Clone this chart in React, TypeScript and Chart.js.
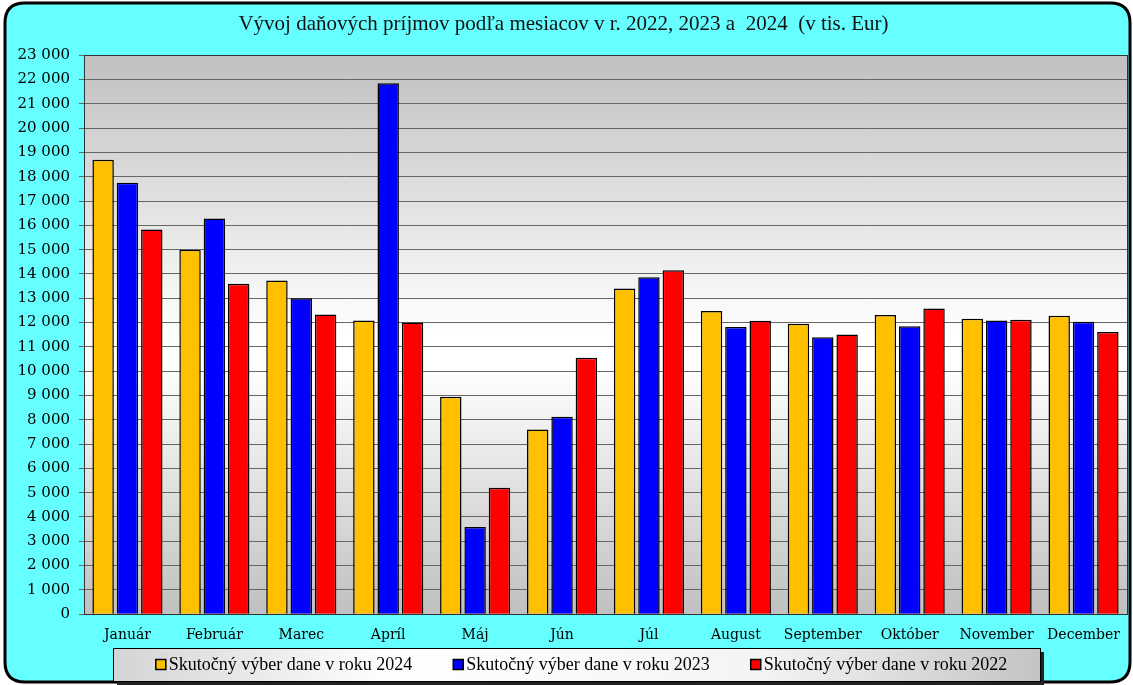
import React, { useEffect, useRef } from "react";
import { Chart, registerables } from "chart.js";

Chart.register(...registerables);

const months = ["Január", "Február", "Marec", "Apríl", "Máj", "Jún", "Júl", "August", "September", "Október", "November", "December"];
const seriesLabels = ["Skutočný výber dane v roku 2024", "Skutočný výber dane v roku 2023", "Skutočný výber dane v roku 2022"];
const values2024 = [18700, 15000, 13730, 12080, 8950, 7600, 13400, 12480, 11950, 12310, 12160, 12280];
const values2023 = [17750, 16280, 13000, 21850, 3590, 8120, 13860, 11820, 11400, 11850, 12080, 12030];
const values2022 = [15830, 13600, 12330, 12000, 5200, 10550, 14150, 12070, 11510, 12580, 12110, 11610];
const colors = ["#FFC000", "#0000FF", "#FF0000"];
const yMax = 23000;
const yStep = 1000;
const titleText = "Vývoj daňových príjmov podľa mesiacov v r. 2022, 2023 a  2024  (v tis. Eur)";

const fmt = (v: number) => String(v).replace(/\B(?=(\d{3})+(?!\d))/g, " ");

const backgroundPlugin = {
  id: "bgPlugin",
  beforeDraw(chart: any) {
    const { ctx, width, height, chartArea } = chart;
    ctx.save();
    ctx.fillStyle = "#ffffff";
    ctx.fillRect(0, 0, width, height);
    const x = 5, y = 3, w = width - 8, h = height - 6, r = 20;
    ctx.beginPath();
    ctx.moveTo(x + r, y);
    ctx.lineTo(x + w - r, y);
    ctx.quadraticCurveTo(x + w, y, x + w, y + r);
    ctx.lineTo(x + w, y + h - r);
    ctx.quadraticCurveTo(x + w, y + h, x + w - r, y + h);
    ctx.lineTo(x + r, y + h);
    ctx.quadraticCurveTo(x, y + h, x, y + h - r);
    ctx.lineTo(x, y + r);
    ctx.quadraticCurveTo(x, y, x + r, y);
    ctx.closePath();
    ctx.fillStyle = "#66FFFF";
    ctx.fill();
    ctx.lineWidth = 3;
    ctx.strokeStyle = "#000000";
    ctx.stroke();
    const g = ctx.createLinearGradient(0, chartArea.top, 0, chartArea.bottom);
    g.addColorStop(0, "#c0c0c0");
    g.addColorStop(0.5, "#ffffff");
    g.addColorStop(0.56, "#ffffff");
    g.addColorStop(1, "#c0c0c0");
    ctx.fillStyle = g;
    ctx.fillRect(chartArea.left, chartArea.top, chartArea.right - chartArea.left, chartArea.bottom - chartArea.top);
    ctx.restore();
  },
  beforeDatasetsDraw(chart: any) {
    const { ctx, chartArea } = chart;
    ctx.save();
    ctx.strokeStyle = "#333333";
    ctx.lineWidth = 1;
    ctx.strokeRect(Math.round(chartArea.left) + 0.5, Math.round(chartArea.top) + 0.5, Math.round(chartArea.right - chartArea.left), Math.round(chartArea.bottom - chartArea.top));
    ctx.restore();
  },
  afterDraw(chart: any) {
    const { ctx } = chart;
    const bx = 113, by = 648, bw = 927, bh = 33;
    ctx.save();
    ctx.fillStyle = "#222222";
    ctx.fillRect(bx + 4, by + 4, bw, bh);
    const g = ctx.createLinearGradient(bx, 0, bx + bw, 0);
    g.addColorStop(0, "#d4d4d4");
    g.addColorStop(0.3, "#ffffff");
    g.addColorStop(0.7, "#f4f4f4");
    g.addColorStop(1, "#c4c4c4");
    ctx.fillStyle = g;
    ctx.fillRect(bx, by, bw, bh);
    ctx.strokeStyle = "#000000";
    ctx.lineWidth = 1;
    ctx.strokeRect(bx + 0.5, by + 0.5, bw, bh);
    ctx.font = "18px 'Liberation Serif'";
    ctx.textBaseline = "middle";
    const datasets = chart.data.datasets;
    const gap = 41;
    const widths = datasets.map((d: any) => 13 + ctx.measureText(d.label).width);
    const total = widths.reduce((a: number, b: number) => a + b, 0) + gap * (datasets.length - 1);
    let cx = bx + bw / 2 - total / 2 + 5;
    const cy = by + bh / 2;
    datasets.forEach((d: any, i: number) => {
      ctx.fillStyle = d.backgroundColor;
      ctx.fillRect(cx, cy - 5, 10, 10);
      ctx.strokeStyle = "#000";
      ctx.lineWidth = 1.5;
      ctx.strokeRect(cx, cy - 5, 10, 10);
      ctx.fillStyle = "#000";
      ctx.fillText(d.label, cx + 13, cy + 1);
      cx += widths[i] + gap;
    });
    ctx.restore();
  },
};

export default function App() {
  const ref = useRef<HTMLCanvasElement>(null);
  useEffect(() => {
    if (!ref.current) return;
    const series = [values2024, values2023, values2022];
    const chart = new Chart(ref.current, {
      type: "bar",
      data: {
        labels: months,
        datasets: series.map((vals, i) => ({
          label: seriesLabels[i],
          data: vals,
          backgroundColor: colors[i],
          borderColor: "#000000",
          borderWidth: 1.5,
          categoryPercentage: 0.84,
          barPercentage: 0.88,
        })),
      },
      options: {
        responsive: false,
        animation: false,
        layout: { padding: { left: 0, right: 6, top: 0, bottom: 36 } },
        plugins: {
          legend: { display: false },
          tooltip: { enabled: false },
          title: {
            display: true,
            text: titleText,
            color: "#111111",
            font: { family: "'Liberation Serif'", size: 21, weight: "normal" },
            padding: { top: 12, bottom: 18 },
          },
        },
        scales: {
          x: {
            grid: { display: false },
            border: { display: true, color: "#000000", width: 1 },
            ticks: { color: "#000000", font: { family: "'DejaVu Serif'", size: 14 }, padding: 5, maxRotation: 0 },
          },
          y: {
            min: 0,
            max: yMax,
            afterFit: (scale: any) => { scale.width = 84; },
            grid: { color: "#666666", lineWidth: 1, tickLength: 5 },
            border: { display: true, color: "#000000", width: 1 },
            ticks: {
              stepSize: yStep,
              color: "#000000",
              font: { family: "'DejaVu Serif'", size: 15 },
              padding: 9,
              callback: (v: any) => fmt(Number(v)),
            },
          },
        },
      },
      plugins: [backgroundPlugin],
    });
    return () => chart.destroy();
  }, []);
  return (
    <div style={{ position: "fixed", left: 0, top: 0, width: 1133, height: 685 }}>
      <canvas ref={ref} width={1133} height={685} style={{ display: "block" }} />
    </div>
  );
}
